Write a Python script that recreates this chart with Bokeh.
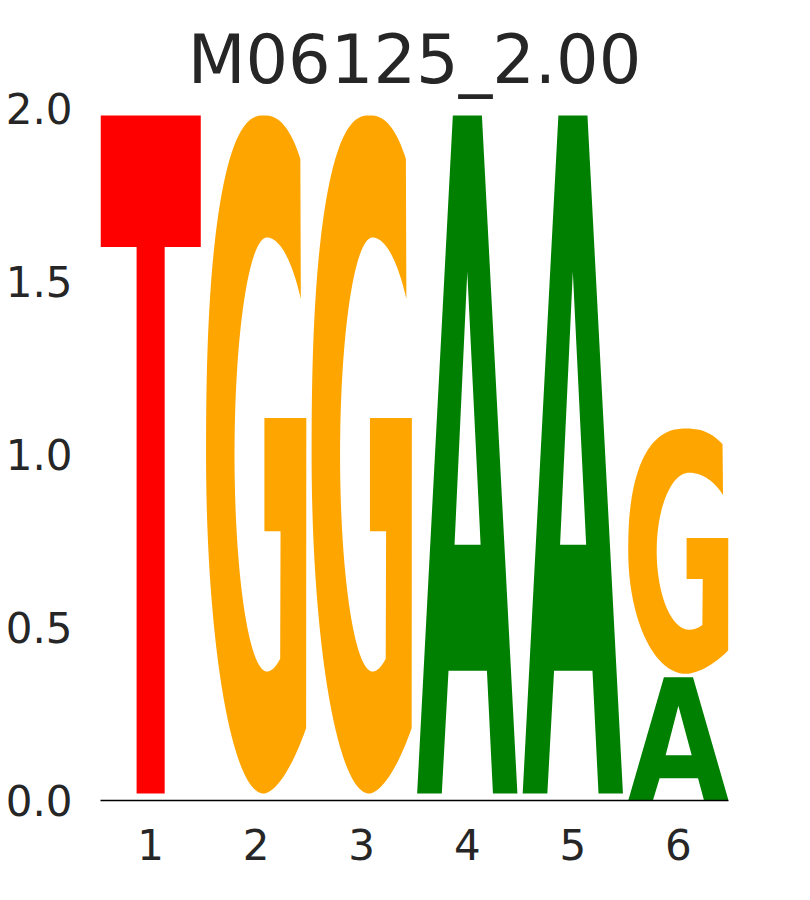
import numpy as np
from bokeh.plotting import figure
from bokeh.models import FixedTicker, PrintfTickFormatter, ColumnDataSource
from bokeh.embed import file_html
from bokeh.resources import INLINE

# ---------------- data ----------------
title_text = "M06125_2.00"
positions = [1, 2, 3, 4, 5, 6]
x_tick_labels = ["1", "2", "3", "4", "5", "6"]
y_ticks = [0.0, 0.5, 1.0, 1.5, 2.0]

# one entry per drawn letter (stacked letters at a position share glyph_pos)
glyph_pos = [1, 2, 3, 4, 5, 6, 6]
glyph_char = ["T", "G", "G", "A", "A", "A", "G"]
glyph_bottom = [0.02, 0.02, 0.02, 0.02, 0.02, 0.0, 0.366]
glyph_top = [1.98, 1.98, 1.98, 1.98, 1.98, 0.356, 1.075]

letter_colors = {"A": "#008000", "C": "#0000ff", "G": "#ffa500", "T": "#ff0000"}
LETTER_WIDTH = 0.95


# ---------------- letter shape templates (unit box) ----------------
def quad(cx, cy, rx, ry, n, sx, sy, num=60):
    """Superellipse quadrant from the horizontal extreme (t=0) to the vertical extreme."""
    t = np.linspace(0, np.pi / 2, num)
    dx = rx * np.cos(t) ** (2.0 / n)
    dy = ry * np.sin(t) ** (2.0 / n)
    return np.column_stack([cx + sx * dx, cy + sy * dy])


def clip_u(pts, umax):
    return pts[pts[:, 0] <= umax + 1e-9]


T_outer = np.array([(0, 1), (1, 1), (1, 0.806), (0.64, 0.806), (0.64, 0),
                    (0.36, 0), (0.36, 0.806), (0, 0.806)])

A_outer = np.array([(0, 0), (0.356, 1), (0.646, 1), (1, 0), (0.756, 0),
                    (0.696, 0.181), (0.313, 0.181), (0.246, 0)])
A_hole = np.array([(0.373, 0.367), (0.5, 0.769), (0.633, 0.367)])

cx_o, cx_i = 0.575, 0.607
g_parts = [
    clip_u(quad(cx_o, 0.5, 0.62, 0.5, 2.4, +1, +1), 0.952),        # outer top-right
    quad(cx_o, 0.5, 0.575, 0.5, 2.4, -1, +1)[::-1],               # outer top-left
    quad(cx_o, 0.5, 0.575, 0.5, 2.0, -1, -1),                     # outer bottom-left
    clip_u(quad(cx_o, 0.5, 0.85, 0.5, 1.7, +1, -1)[::-1], 1.0),   # outer bottom-right
    np.array([(1.0, 0.554), (0.582, 0.554), (0.582, 0.387), (0.743, 0.387)]),  # bar
    clip_u(quad(cx_i, 0.5, 0.39, 0.32, 2.0, +1, -1), 0.743),      # inner bottom-right
    quad(cx_i, 0.5, 0.323, 0.32, 2.0, -1, -1)[::-1],              # inner bottom-left
    quad(cx_i, 0.5, 0.323, 0.32, 2.0, -1, +1),                    # inner top-left
    clip_u(quad(cx_i, 0.5, 0.485, 0.32, 2.0, +1, +1)[::-1], 0.952),  # inner top-right
]
G_outer = np.vstack(g_parts)

shapes = {"T": [T_outer], "A": [A_outer, A_hole], "G": [G_outer]}

xs, ys, colors = [], [], []
for pos, ch, b, t in zip(glyph_pos, glyph_char, glyph_bottom, glyph_top):
    rings_x, rings_y = [], []
    for ring in shapes[ch]:
        rings_x.append(list(pos - LETTER_WIDTH / 2 + ring[:, 0] * LETTER_WIDTH))
        rings_y.append(list(b + ring[:, 1] * (t - b)))
    xs.append([rings_x])
    ys.append([rings_y])
    colors.append(letter_colors[ch])

src = ColumnDataSource(dict(xs=xs, ys=ys, color=colors))

# ---------------- figure ----------------
TEXT = "#262626"
FONT = "DejaVu Sans"

p = figure(frame_width=628, frame_height=692,
           x_range=(0.525, 6.475), y_range=(0, 2),
           output_backend="svg", toolbar_location=None,
           min_border_left=100, min_border_right=40,
           min_border_top=108, min_border_bottom=84,
           background_fill_color="white", border_fill_color="white")
p.outline_line_color = None
p.xgrid.visible = False
p.ygrid.visible = False

p.multi_polygons(xs="xs", ys="ys", fill_color="color", line_color=None, source=src)

p.title.text = title_text
p.title.align = "center"
p.title.text_font = FONT
p.title.text_font_size = "67px"
p.title.text_font_style = "normal"
p.title.text_color = TEXT
p.title.standoff = 19

xa = p.xaxis[0]
xa.ticker = FixedTicker(ticks=positions)
xa.major_label_overrides = {pos: lab for pos, lab in zip(positions, x_tick_labels)}
xa.axis_line_color = "black"
xa.axis_line_width = 1.3
xa.major_tick_line_color = None
xa.minor_tick_line_color = None
xa.major_tick_out = 0
xa.major_tick_in = 0
xa.minor_tick_out = 0
xa.major_label_standoff = 28
xa.major_label_text_font = FONT
xa.major_label_text_font_size = "42px"
xa.major_label_text_color = TEXT

ya = p.yaxis[0]
ya.ticker = FixedTicker(ticks=y_ticks)
ya.formatter = PrintfTickFormatter(format="%.1f")
ya.axis_line_color = None
ya.major_tick_line_color = None
ya.minor_tick_line_color = None
ya.major_tick_out = 0
ya.major_tick_in = 0
ya.minor_tick_out = 0
ya.major_label_standoff = 28
ya.major_label_text_font = FONT
ya.major_label_text_font_size = "42px"
ya.major_label_text_color = TEXT

open("out.html", "w").write(file_html(p, INLINE))
